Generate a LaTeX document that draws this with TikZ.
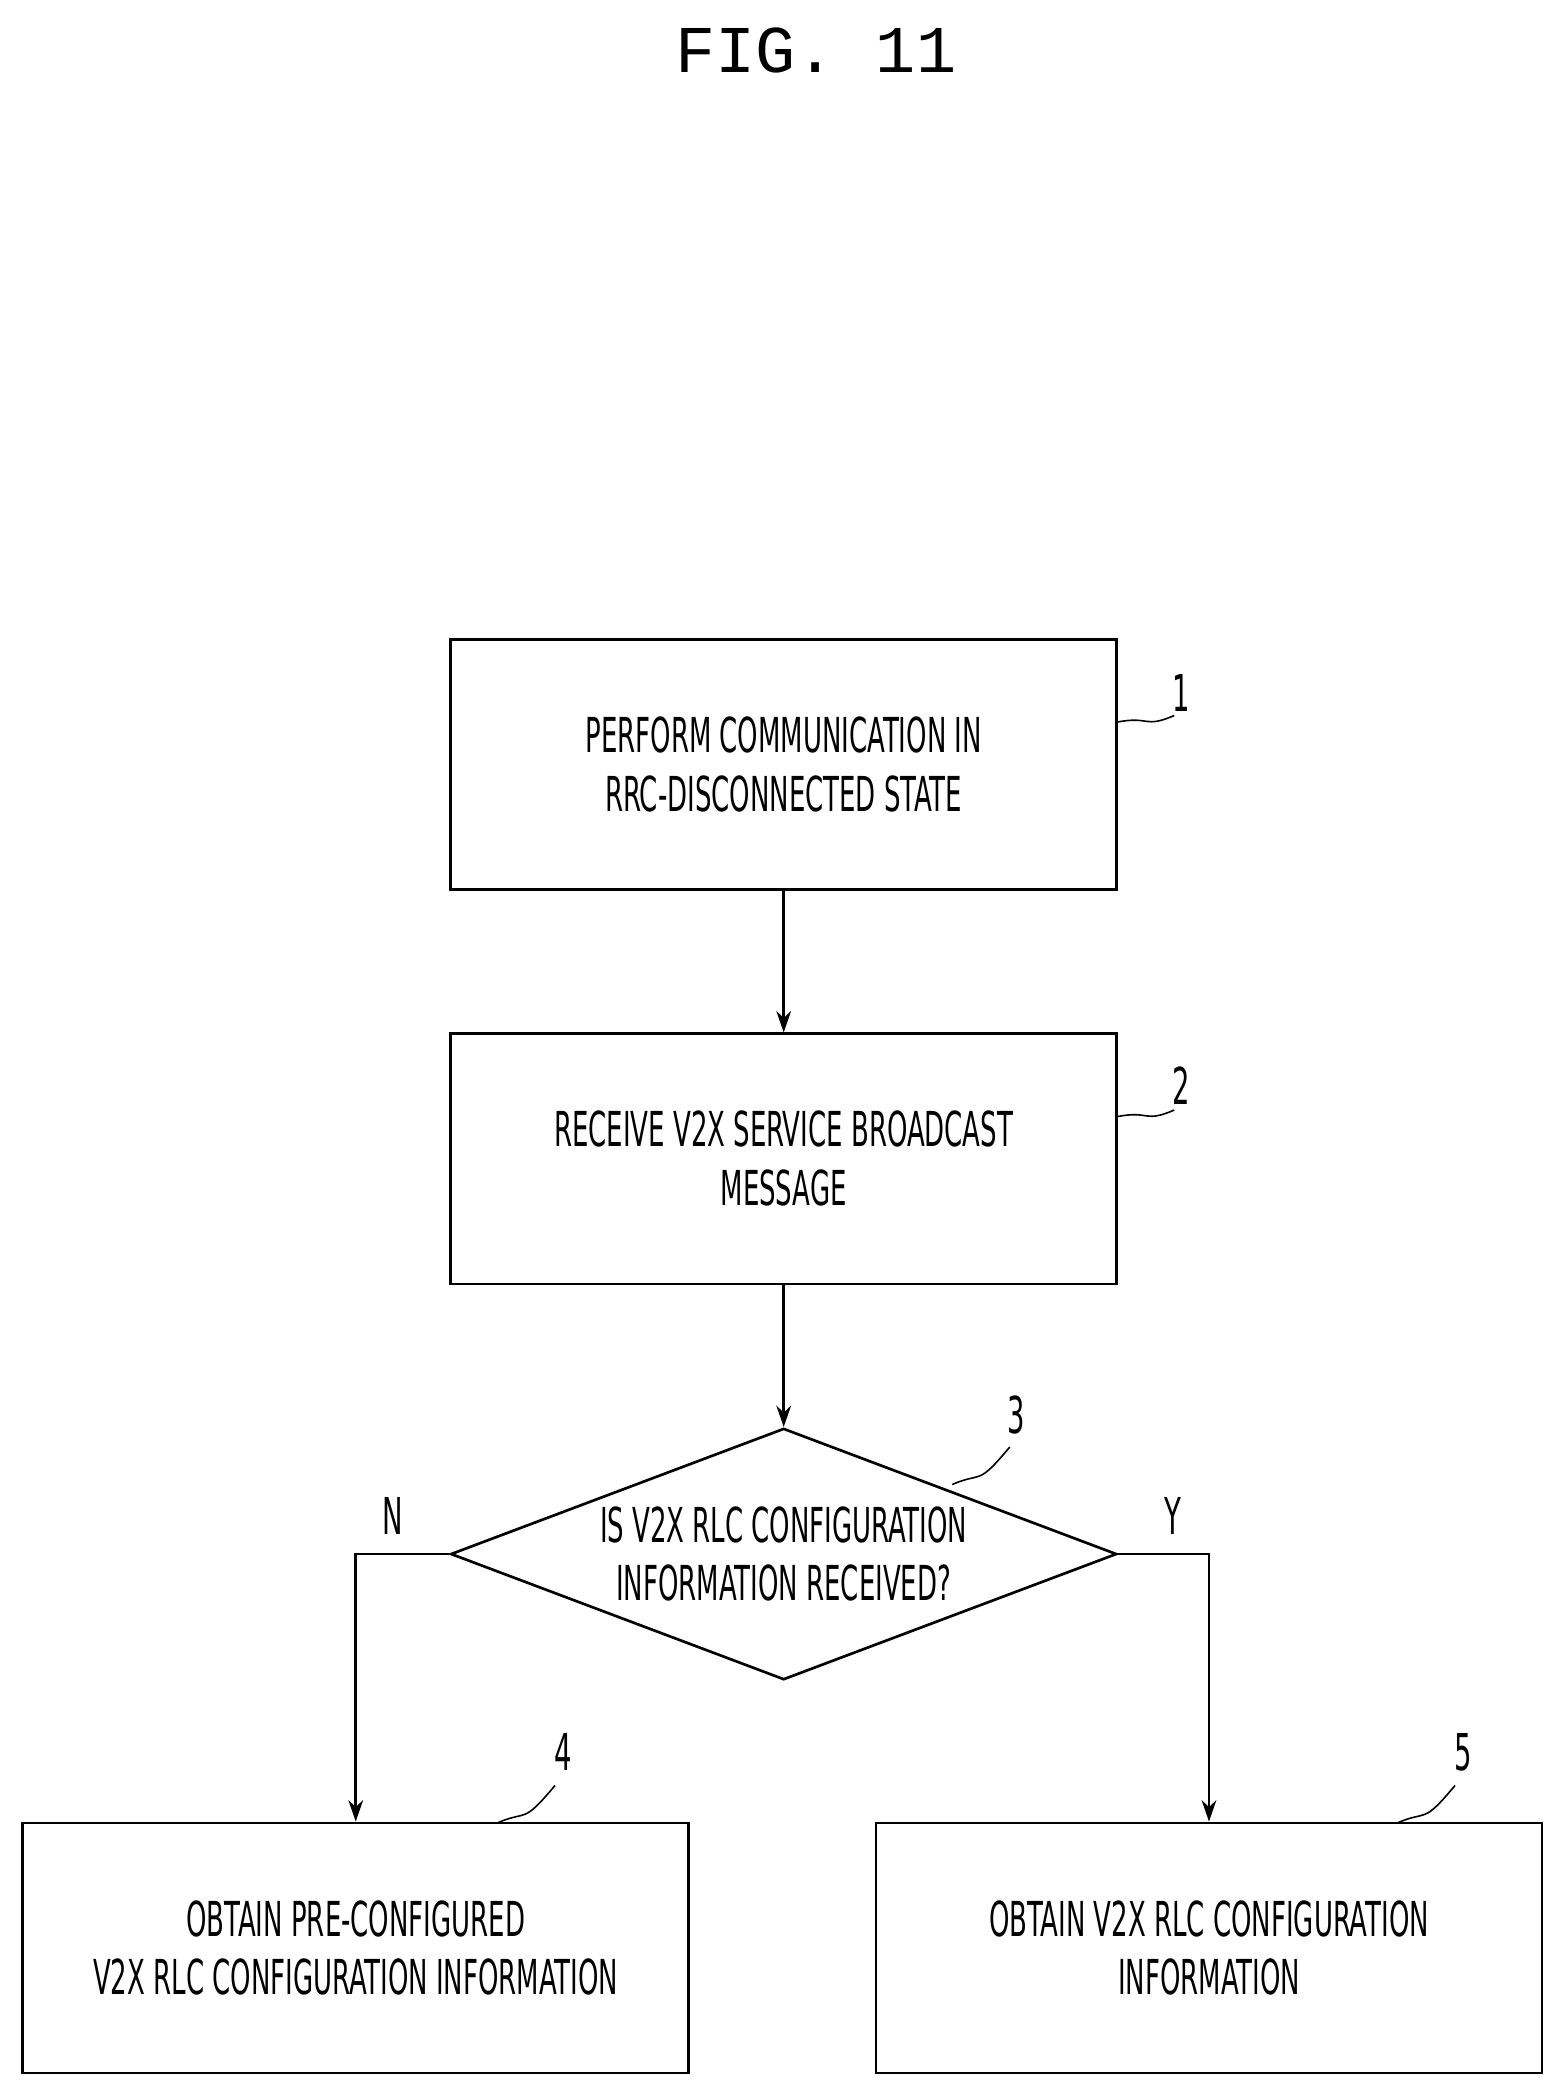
\documentclass[tikz,border=0pt]{standalone}
\usepackage{fontspec}
\setmainfont[FakeStretch=0.6]{DejaVu Sans Condensed}
\newfontfamily\figfont{Liberation Mono}
\usetikzlibrary{arrows.meta,shapes.geometric}
\begin{document}
\begin{tikzpicture}[x=1pt,y=-1pt, line width=2pt,
    stepbox/.style = {draw, minimum width=498pt, minimum height=187pt, align=center, font=\fontsize{36}{44}\selectfont},
    decide/.style = {draw, diamond, aspect=2.65, minimum width=498pt, minimum height=188pt, inner sep=0pt, align=center, font=\fontsize{36}{44}\selectfont},
    tag/.style = {font=\fontsize{38}{40}\selectfont},
    flow/.style = {-{Stealth[length=16pt,width=11pt]}}]
    \useasboundingbox (0,0) rectangle (1170,1568);
    \node[font=\figfont\fontsize{50}{56}\selectfont] (title) at (610,38) {FIG. 11};

    \node[stepbox] (S1) at (586,571.5) {PERFORM COMMUNICATION IN\\RRC-DISCONNECTED STATE};
    \node[stepbox] (S2) at (586,866.5) {RECEIVE V2X SERVICE BROADCAST\\MESSAGE};
    \node[decide] (S3) at (586,1162) {IS V2X RLC CONFIGURATION\\INFORMATION RECEIVED?};
    \node[stepbox] (S4) at (266,1456.5) {OBTAIN PRE-CONFIGURED\\V2X RLC CONFIGURATION INFORMATION};
    \node[stepbox] (S5) at (904,1456.5) {OBTAIN V2X RLC CONFIGURATION\\INFORMATION};

    \path[flow] (S1) edge (S2);
    \path[flow] (S2) edge (S3);
    \draw[flow] (S3.west) -| node[pos=0.3, above=10pt, tag] {N} (S4.north);
    \draw[flow] (S3.east) -| node[pos=0.3, above=10pt, tag] {Y} (S5.north);

    % reference numerals
    \node[tag] (n1) at (883,518) {1};
    \node[tag] (n2) at (883,812) {2};
    \node[tag] (n3) at (760,1058) {3};
    \node[tag] (n4) at (421,1310) {4};
    \node[tag] (n5) at (1094,1310) {5};
    \draw[line width=1.2pt] (835,540) .. controls (860,535) and (855,545) .. (878,535);
    \draw[line width=1.2pt] (835,835) .. controls (860,830) and (855,840) .. (878,830);
    \draw[line width=1.2pt] (712,1110) .. controls (735,1100) and (730,1112) .. (755,1082);
    \draw[line width=1.2pt] (372,1363) .. controls (395,1353) and (390,1365) .. (415,1335);
    \draw[line width=1.2pt] (1045,1363) .. controls (1068,1353) and (1063,1365) .. (1088,1335);
\end{tikzpicture}
\end{document}
